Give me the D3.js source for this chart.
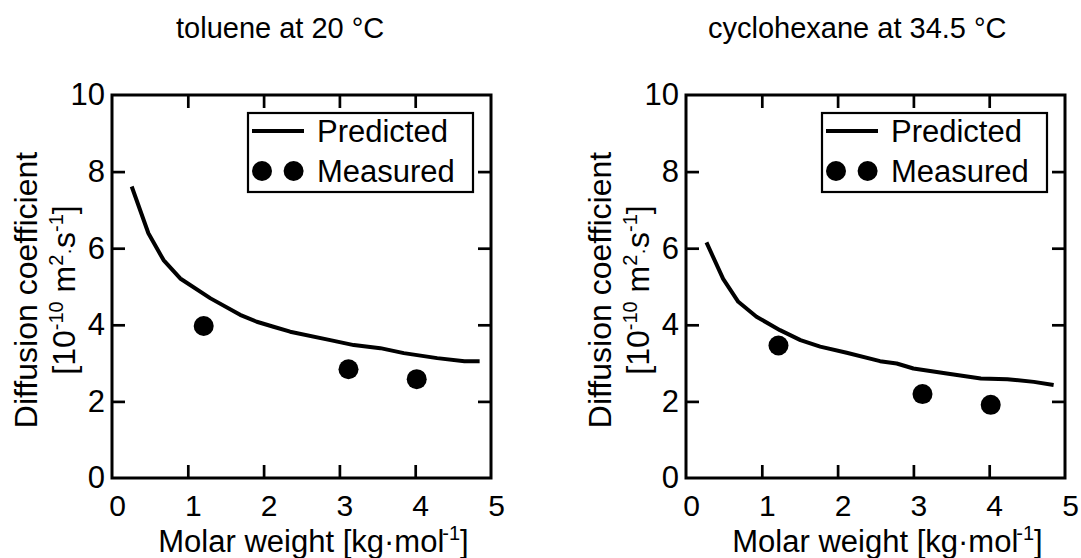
<!DOCTYPE html>
<html>
<head>
<meta charset="utf-8">
<script src="https://cdn.jsdelivr.net/npm/d3@7"></script>
<style>
  html, body { margin: 0; padding: 0; background: #fff; }
  svg { display: block; }
  text { font-family: "Liberation Sans", Arial, sans-serif; fill: #000; }
</style>
</head>
<body>
<svg id="chart" width="1081" height="558"></svg>
<script>
// ---- data ----
const xTicks = [0, 1, 2, 3, 4, 5];
const yTicks = [0, 2, 4, 6, 8, 10];
const titles = ["toluene at 20 \u00B0C", "cyclohexane at 34.5 \u00B0C"];
const legendLabels = ["Predicted", "Measured"];

const toluenePredX = [0.26, 0.48, 0.68, 0.90, 1.30, 1.69, 1.91, 2.13, 2.35, 2.88, 3.19, 3.54, 3.85, 4.29, 4.65, 4.85];
const toluenePredY = [7.61, 6.39, 5.69, 5.21, 4.69, 4.26, 4.08, 3.95, 3.82, 3.60, 3.47, 3.39, 3.26, 3.13, 3.05, 3.05];
const tolueneMeasX = [1.21, 3.12, 4.02];
const tolueneMeasY = [3.97, 2.84, 2.58];

const cycloPredX = [0.27, 0.49, 0.69, 0.93, 1.24, 1.51, 1.77, 2.12, 2.56, 2.78, 3.00, 3.44, 3.89, 4.24, 4.59, 4.85];
const cycloPredY = [6.15, 5.20, 4.60, 4.21, 3.86, 3.60, 3.43, 3.27, 3.05, 2.99, 2.86, 2.73, 2.60, 2.58, 2.51, 2.43];
const cycloMeasX = [1.22, 3.12, 4.02];
const cycloMeasY = [3.46, 2.19, 1.91];

const panels = [
  { title: titles[0], predX: toluenePredX, predY: toluenePredY, measX: tolueneMeasX, measY: tolueneMeasY, left: 112, titleX: 176 },
  { title: titles[1], predX: cycloPredX, predY: cycloPredY, measX: cycloMeasX, measY: cycloMeasY, left: 686, titleX: 708 }
];

// ---- layout ----
const svg = d3.select("#chart");
const plotW = 379, plotTop = 95, plotBottom = 478;
const tickLen = 13;
const fs = 31;

panels.forEach(p => {
  const x = d3.scaleLinear().domain([0, 5]).range([p.left, p.left + plotW]);
  const y = d3.scaleLinear().domain([0, 10]).range([plotBottom, plotTop]);
  const g = svg.append("g");

  // title
  g.append("text").attr("x", p.titleX).attr("y", 38)
    .style("font-size", "29px").text(p.title);

  // axes
  const inner = [1, 2, 3, 4];
  const innerY = [2, 4, 6, 8];
  const ax = g.append("g").attr("transform", `translate(0,${plotBottom})`)
    .call(d3.axisBottom(x).tickValues(xTicks).tickSizeInner(-tickLen).tickSizeOuter(0).tickPadding(17).tickFormat(d3.format("d")));
  ax.selectAll(".tick").filter(d => d === 0 || d === 5).select("line").remove();
  ax.selectAll("text").attr("dx", 5).style("font-size", "30px");
  const ay = g.append("g").attr("transform", `translate(${p.left},0)`)
    .call(d3.axisLeft(y).tickValues(yTicks).tickSizeInner(-tickLen).tickSizeOuter(0).tickPadding(7).tickFormat(d3.format("d")));
  ay.selectAll(".tick").filter(d => d === 0 || d === 10).select("line").remove();
  ay.selectAll("text").style("font-size", fs + "px");
  g.append("g").attr("transform", `translate(0,${plotTop})`)
    .call(d3.axisTop(x).tickValues(inner).tickSizeInner(-tickLen).tickSizeOuter(0).tickFormat(""));
  g.append("g").attr("transform", `translate(${p.left + plotW},0)`)
    .call(d3.axisRight(y).tickValues(innerY).tickSizeInner(-tickLen).tickSizeOuter(0).tickFormat(""));
  g.selectAll(".domain").remove();
  g.selectAll(".tick line").attr("stroke", "#000").attr("stroke-width", 2.7);
  g.selectAll(".tick text").attr("fill", "#000")
    .style("font-family", "'Liberation Sans', Arial, sans-serif");

  // frame
  g.append("rect").attr("x", x(0)).attr("y", y(10))
    .attr("width", x(5) - x(0)).attr("height", y(0) - y(10))
    .attr("fill", "none").attr("stroke", "#000").attr("stroke-width", 3);

  // y label
  const cy = 290;
  const yl = g.append("text").attr("transform", `translate(${p.left - 75},${cy}) rotate(-90)`)
    .attr("text-anchor", "middle").style("font-size", "32px");
  yl.append("tspan").attr("x", 0).attr("y", 0).text("Diffusion coefficient");
  const yl2 = g.append("text").attr("transform", `translate(${p.left - 37},${cy}) rotate(-90)`)
    .attr("text-anchor", "middle").style("font-size", "32px");
  yl2.append("tspan").text("[10");
  yl2.append("tspan").attr("dy", -12).style("font-size", "20px").text("-10");
  yl2.append("tspan").attr("dy", 12).text(" m");
  yl2.append("tspan").attr("dy", -12).style("font-size", "20px").text("2");
  yl2.append("tspan").attr("dy", 12).style("font-size", "20px").text("\u00B7");
  yl2.append("tspan").text("s");
  yl2.append("tspan").attr("dy", -12).style("font-size", "20px").text("-1");
  yl2.append("tspan").attr("dy", 12).text("]");

  // x label
  const xl = g.append("text").attr("x", p.left + plotW / 2 + 12).attr("y", 552)
    .attr("text-anchor", "middle").style("font-size", "31px");
  xl.append("tspan").text("Molar weight [kg\u00B7mol");
  xl.append("tspan").attr("dy", -12).attr("dx", -2).style("font-size", "20px").text("-1");
  xl.append("tspan").attr("dy", 12).text("]");

  // predicted line
  const pts = p.predX.map((v, i) => [v, p.predY[i]]);
  g.append("path").datum(pts)
    .attr("d", d3.line().x(d => x(d[0])).y(d => y(d[1])))
    .attr("fill", "none").attr("stroke", "#000").attr("stroke-width", 4)
    .attr("stroke-linejoin", "round");

  // measured points
  g.selectAll("circle.m").data(p.measX.map((v, i) => [v, p.measY[i]])).enter()
    .append("circle").attr("class", "m")
    .attr("cx", d => x(d[0])).attr("cy", d => y(d[1])).attr("r", 10).attr("fill", "#000");

  // legend
  const lx = p.left + 136, ly = 113;
  const lg = g.append("g");
  lg.append("rect").attr("x", lx).attr("y", ly).attr("width", 225).attr("height", 79)
    .attr("fill", "#fff").attr("stroke", "#000").attr("stroke-width", 2.2);
  lg.append("line").attr("x1", lx + 4).attr("x2", lx + 56).attr("y1", ly + 18).attr("y2", ly + 18)
    .attr("stroke", "#000").attr("stroke-width", 4);
  lg.append("text").attr("x", lx + 69).attr("y", ly + 29).style("font-size", fs + "px").text(legendLabels[0]);
  [14, 45.6].forEach(dx => lg.append("circle").attr("cx", lx + dx).attr("cy", ly + 58).attr("r", 10).attr("fill", "#000"));
  lg.append("text").attr("x", lx + 69).attr("y", ly + 69).style("font-size", fs + "px").text(legendLabels[1]);
});
</script>
</body>
</html>
